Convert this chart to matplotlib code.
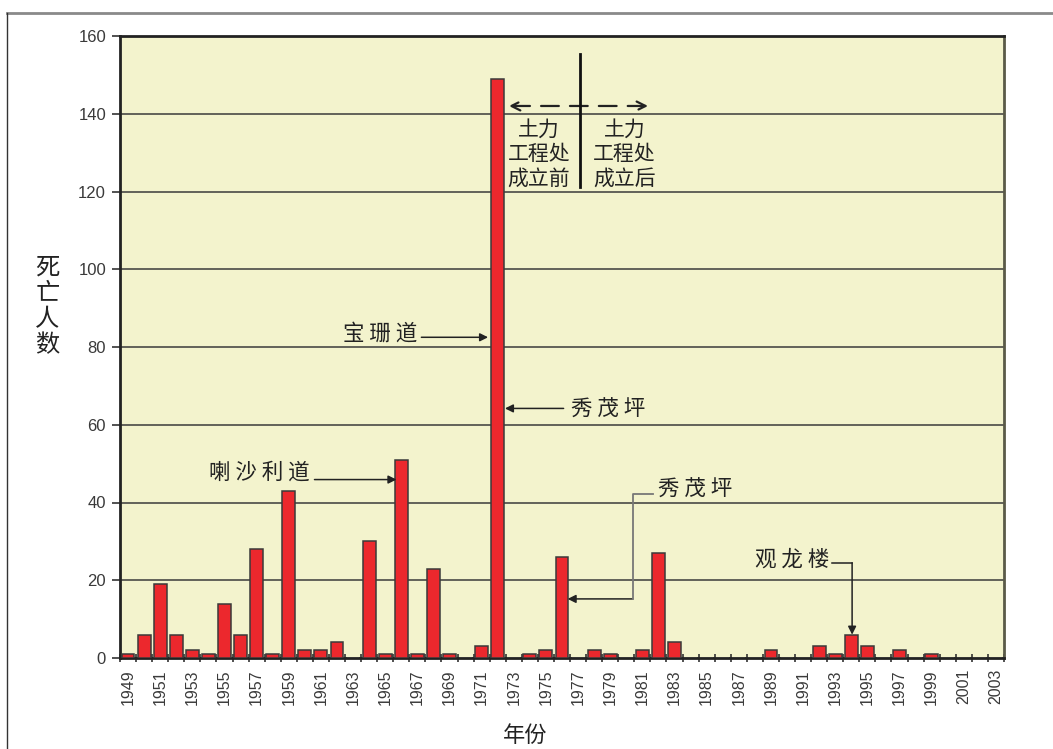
import matplotlib
matplotlib.use("Agg")
import matplotlib.pyplot as plt
from matplotlib.lines import Line2D

plt.rcParams['font.family'] = ['Noto Sans CJK SC', 'DejaVu Sans']

years = list(range(1949, 2004))
deaths = [1, 6, 19, 6, 2, 1, 14, 6, 28, 1,
          43, 2, 2, 4, 0, 30, 1, 51, 1, 23,
          1, 0, 3, 149, 0, 1, 2, 26, 0, 2,
          1, 0, 2, 27, 4, 0, 0, 0, 0, 0,
          2, 0, 0, 3, 1, 6, 3, 0, 2, 0,
          1, 0, 0, 0, 0]
label_years = list(range(1949, 2004, 2))
y_ticks = [0, 20, 40, 60, 80, 100, 120, 140, 160]

fig = plt.figure(figsize=(10.53, 7.49), dpi=100)
ax = fig.add_axes([120/1053, 1-658/749, (1004-120)/1053, (658-36)/749])
ax.set_facecolor('#F3F3CD')

ax.bar(years, deaths, width=0.8, color='#EC282D', edgecolor='#3a3a3a', linewidth=1.1, zorder=3)

ax.set_xlim(1948.5, 2003.5)
ax.set_ylim(0, 160)
ax.set_yticks(y_ticks)
ax.set_yticklabels([str(v) for v in y_ticks], fontsize=12, color='#3a3a3a',
                   family=['Liberation Sans', 'DejaVu Sans'])
ax.yaxis.grid(True, color='#3a3a3a', linewidth=1.1, zorder=1)
ax.set_axisbelow(True)
ax.tick_params(axis='y', length=6, width=1.2, color='#333333', pad=4)

ax.set_xticks(label_years)
ax.set_xticklabels([str(y) for y in label_years], rotation=90, fontsize=11.5,
                   color='#3a3a3a', family=['Liberation Sans', 'DejaVu Sans'])
ax.tick_params(axis='x', which='major', length=0, pad=8)
ax.set_xticks([y - 0.5 for y in years] + [2003.5], minor=True)
ax.tick_params(axis='x', which='minor', length=6, width=1.2, color='#333333', direction='inout')

for s in ['left', 'bottom', 'top']:
    ax.spines[s].set_linewidth(2)
    ax.spines[s].set_color('#222222')
ax.spines['right'].set_linewidth(2)
ax.spines['right'].set_color('#5a5a48')

# axis labels
ax.text(-0.082, 0.565, '死\n亡\n人\n数', transform=ax.transAxes, fontsize=17.5,
        ha='center', va='center', linespacing=1.0, color='#222222', fontweight='light')
fig.text(525/1053, 1-735/749, '年份', fontsize=16, ha='center', va='center',
         color='#222222', fontweight='light')

txt_kw = dict(fontsize=15.5, color='#222222', fontweight='light')
geo_kw = dict(fontsize=15, color='#222222', fontweight='light')
arr = dict(arrowstyle='-|>', color='#222222', lw=1.1, mutation_scale=12, shrinkA=0, shrinkB=0)

# 宝珊道
ax.text(1967.0, 83.5, '宝 珊 道', ha='right', va='center', **txt_kw)
ax.annotate('', xy=(1971.4, 82.5), xytext=(1967.25, 82.5), arrowprops=arr)
# 秀茂坪 1
ax.text(1976.55, 63.9, '秀 茂 坪', ha='left', va='center', **txt_kw)
ax.annotate('', xy=(1972.45, 64.2), xytext=(1976.1, 64.2), arrowprops=arr)
# 喇沙利道
ax.text(1960.3, 47.6, '喇 沙 利 道', ha='right', va='center', **txt_kw)
ax.annotate('', xy=(1965.7, 45.9), xytext=(1960.6, 45.9), arrowprops=arr)
# 秀茂坪 2
ax.text(1982.0, 43.3, '秀 茂 坪', ha='left', va='center', **txt_kw)
ax.plot([1981.65, 1980.4, 1980.4], [42.3, 42.3, 15.2], color='#777777', lw=1.3, zorder=4)
ax.annotate('', xy=(1976.35, 15.2), xytext=(1980.4, 15.2), arrowprops=arr)
# 观龙楼
ax.text(1992.6, 25.3, '观 龙 楼', ha='right', va='center', **txt_kw)
ax.plot([1992.8, 1994.05], [24.5, 24.5], color='#222222', lw=1.1, zorder=4)
ax.annotate('', xy=(1994.05, 6.0), xytext=(1994.05, 24.5), arrowprops=arr)

# GEO divider
ax.plot([1977.1, 1977.1], [121.1, 155.4], color='#111111', lw=2, zorder=4)
ax.annotate('', xy=(1972.7, 142), xytext=(1981.35, 142),
            arrowprops=dict(arrowstyle='<->', color='#222222', lw=1.6, linestyle=(0, (8, 5)),
                            mutation_scale=16, shrinkA=0, shrinkB=0))
ax.text(1974.55, 129.6, '土力\n工程处\n成立前', ha='center', va='center',
        linespacing=1.15, **geo_kw)
ax.text(1979.9, 129.6, '土力\n工程处\n成立后', ha='center', va='center',
        linespacing=1.15, **geo_kw)

# outer frame
fig.add_artist(Line2D([7/1053, 1], [1-13/749, 1-13/749], color='#8a8a8a', lw=2))
fig.add_artist(Line2D([7/1053, 7/1053], [0, 1-13/749], color='#333333', lw=1))

fig.savefig('out.png', dpi=100)
